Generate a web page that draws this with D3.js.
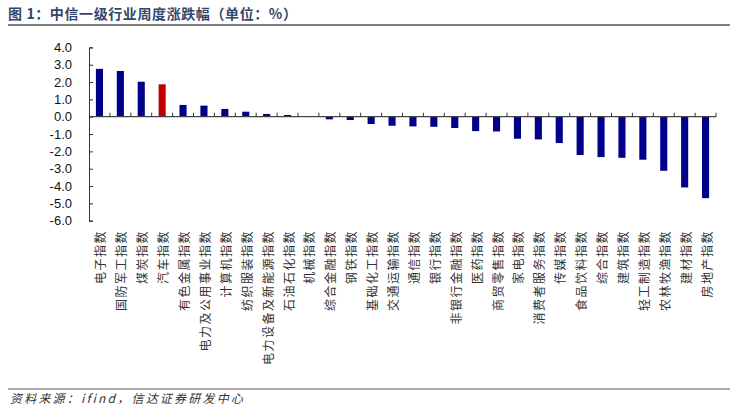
<!DOCTYPE html>
<html>
<head>
<meta charset="utf-8">
<script src="https://cdn.jsdelivr.net/npm/d3@7"></script>
<style>
  html, body { margin: 0; padding: 0; background: #fff; }
  svg { display: block; }
</style>
</head>
<body>
<svg id="chart" width="730" height="413"></svg>
<script>
const categories = ["电子指数","国防军工指数","煤炭指数","汽车指数","有色金属指数","电力及公用事业指数","计算机指数","纺织服装指数","电力设备及新能源指数","石油石化指数","机械指数","综合金融指数","钢铁指数","基础化工指数","交通运输指数","通信指数","银行指数","非银行金融指数","医药指数","商贸零售指数","家电指数","消费者服务指数","传媒指数","食品饮料指数","综合指数","建筑指数","轻工制造指数","农林牧渔指数","建材指数","房地产指数"];
const values = [2.76,2.64,2.02,1.87,0.68,0.64,0.45,0.29,0.16,0.10,0.03,-0.15,-0.19,-0.42,-0.52,-0.56,-0.58,-0.65,-0.83,-0.85,-1.27,-1.31,-1.52,-2.21,-2.33,-2.37,-2.48,-3.12,-4.08,-4.70];
const highlight = ["汽车指数"];
const yTicks = [4,3,2,1,0,-1,-2,-3,-4,-5,-6];
const titleText = "图 1：中信一级行业周度涨跌幅（单位：%）";
const sourceText = "资料来源：ifind，信达证券研发中心";

(function () {
const svg = d3.select("#chart");
const W = 730;
const pLeft = 89, pRight = 716, pTop = 47.4, pBottom = 220.7;

const x = d3.scaleBand().domain(categories).range([pLeft, pRight]).padding(0);
const y = d3.scaleLinear().domain([-6, 4]).range([pBottom, pTop]);

// Title
svg.append("text")
  .attr("x", 8).attr("y", 19)
  .attr("font-family", "'Noto Sans CJK SC', sans-serif")
  .attr("font-size", 14).attr("font-weight", 700)
  .attr("fill", "#33476b")
  .style("letter-spacing", "0.6px")
  .text(titleText);
svg.append("line")
  .attr("x1", 8).attr("x2", W).attr("y1", 25).attr("y2", 25)
  .attr("stroke", "#7f7f7f").attr("stroke-width", 2);

// Bars
const bw = x.bandwidth() * 0.34;
svg.append("g").selectAll("rect").data(categories).join("rect")
  .attr("x", d => x(d) + (x.bandwidth() - bw) / 2)
  .attr("width", bw)
  .attr("y", (d, i) => y(Math.max(0, values[i])))
  .attr("height", (d, i) => Math.abs(y(values[i]) - y(0)))
  .attr("fill", d => highlight.includes(d) ? "#C00000" : "#00008B");

// Y axis
const yAxis = d3.axisLeft(y).tickValues(yTicks).tickFormat(d3.format(".1f")).tickSize(-4).tickPadding(17);
const gy = svg.append("g").attr("transform", `translate(${pLeft},0)`).call(yAxis);
gy.select(".domain").attr("stroke", "#333");
gy.selectAll(".tick line").attr("stroke", "#333");
gy.selectAll(".tick text")
  .attr("font-family", "'Liberation Sans', Arial, sans-serif")
  .attr("font-size", 13).attr("fill", "#111")
  .text(d => d3.format(".1f")(d).replace("−", "-"));

// X axis line at zero
const gx = svg.append("g");
gx.append("line")
  .attr("x1", pLeft).attr("x2", pRight)
  .attr("y1", y(0)).attr("y2", y(0))
  .attr("stroke", "#444").attr("stroke-width", 1.2);
const bounds = d3.range(1, categories.length + 1).map(i => pLeft + i * x.step());
gx.selectAll("line.tk").data(bounds).join("line")
  .attr("class", "tk")
  .attr("x1", d => d).attr("x2", d => d)
  .attr("y1", y(0)).attr("y2", y(0) - 4)
  .attr("stroke", "#333");

// Category labels (rotated -90)
svg.append("g").selectAll("text").data(categories).join("text")
  .attr("transform", d => `translate(${x(d) + x.bandwidth() / 2 + 0.5},230) rotate(-90)`)
  .attr("text-anchor", "end")
  .attr("dominant-baseline", "central")
  .attr("font-family", "'Noto Sans CJK SC', sans-serif")
  .attr("font-size", 12)
  .style("letter-spacing", "1.5px")
  .attr("fill", "#333")
  .text(d => d);

// Source
svg.append("line")
  .attr("x1", 8).attr("x2", W).attr("y1", 389).attr("y2", 389)
  .attr("stroke", "#555").attr("stroke-width", 1);
svg.append("text")
  .attr("x", 10).attr("y", 403)
  .attr("font-family", "'Noto Sans CJK SC', sans-serif")
  .attr("font-size", 12).attr("font-style", "italic")
  .style("letter-spacing", "2.2px")
  .attr("fill", "#333")
  .text(sourceText);
})();
</script>
</body>
</html>
